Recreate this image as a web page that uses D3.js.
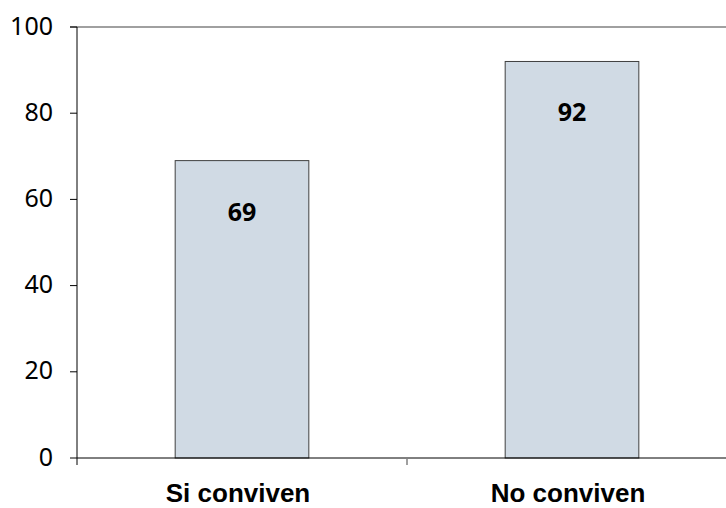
<!DOCTYPE html>
<html><head><meta charset="utf-8">
<script src="https://cdn.jsdelivr.net/npm/d3@7"></script>
<style>body{margin:0;background:#fff}</style>
</head><body>
<script>
const categories = ["Si conviven", "No conviven"];
const values = [69, 92];
const yTicks = [0, 20, 40, 60, 80, 100];

const W = 726, H = 508;
const svg = d3.select("body").append("svg").attr("width", W).attr("height", H);

const x = d3.scaleBand().domain(categories).range([77, 737]).paddingInner(0).paddingOuter(0);
const y = d3.scaleLinear().domain([0, 100]).range([458, 27]);

// top gridline at 100
svg.append("line").attr("x1", 70).attr("x2", W).attr("y1", y(100)).attr("y2", y(100))
  .attr("stroke", "#808080").attr("stroke-width", 1.5);

const barW = x.bandwidth() * 0.405;
svg.selectAll("rect.bar").data(values).join("rect")
  .attr("x", (d, i) => x(categories[i]) + x.bandwidth() / 2 - barW / 2)
  .attr("y", d => y(d))
  .attr("width", barW)
  .attr("height", d => y(0) - y(d))
  .attr("fill", "#d0dae4")
  .attr("stroke", "#404040").attr("stroke-width", 1);

// y axis
svg.append("line").attr("x1", 77).attr("x2", 77).attr("y1", y(100)).attr("y2", y(0) + 7)
  .attr("stroke", "#000").attr("stroke-width", 1);
svg.selectAll("line.ytick").data(yTicks).join("line")
  .attr("x1", 70).attr("x2", 77).attr("y1", d => y(d)).attr("y2", d => y(d))
  .attr("stroke", "#000");
svg.selectAll("text.ylab").data(yTicks).join("text")
  .attr("x", 53).attr("y", d => y(d)).attr("dy", "0.3em")
  .attr("text-anchor", "end")
  .attr("font-family", "Noto Sans, sans-serif").attr("font-size", 25)
  .attr("fill", "#000").text(d => d);

// x axis
svg.append("line").attr("x1", 77).attr("x2", W).attr("y1", y(0)).attr("y2", y(0))
  .attr("stroke", "#000").attr("stroke-width", 1);
svg.selectAll("line.xtick").data(categories.slice(1)).join("line")
  .attr("x1", d => x(d)).attr("x2", d => x(d)).attr("y1", y(0)).attr("y2", y(0) + 7)
  .attr("stroke", "#808080").attr("stroke-width", 1.5);
svg.selectAll("text.xlab").data(categories).join("text")
  .attr("x", d => x(d) + x.bandwidth() / 2 - 4).attr("y", 502)
  .attr("text-anchor", "middle")
  .attr("font-family", "Liberation Sans, Arial, sans-serif").attr("font-weight", "bold").attr("font-size", 26)
  .attr("fill", "#000").text(d => d);

// value labels
svg.selectAll("text.val").data(values).join("text")
  .attr("x", (d, i) => x(categories[i]) + x.bandwidth() / 2)
  .attr("y", d => y(d) + 51).attr("dy", "0.36em")
  .attr("text-anchor", "middle")
  .attr("font-family", "Noto Sans, sans-serif").attr("font-weight", "bold").attr("font-size", 25)
  .attr("fill", "#000").text(d => d);
</script>
</body></html>
